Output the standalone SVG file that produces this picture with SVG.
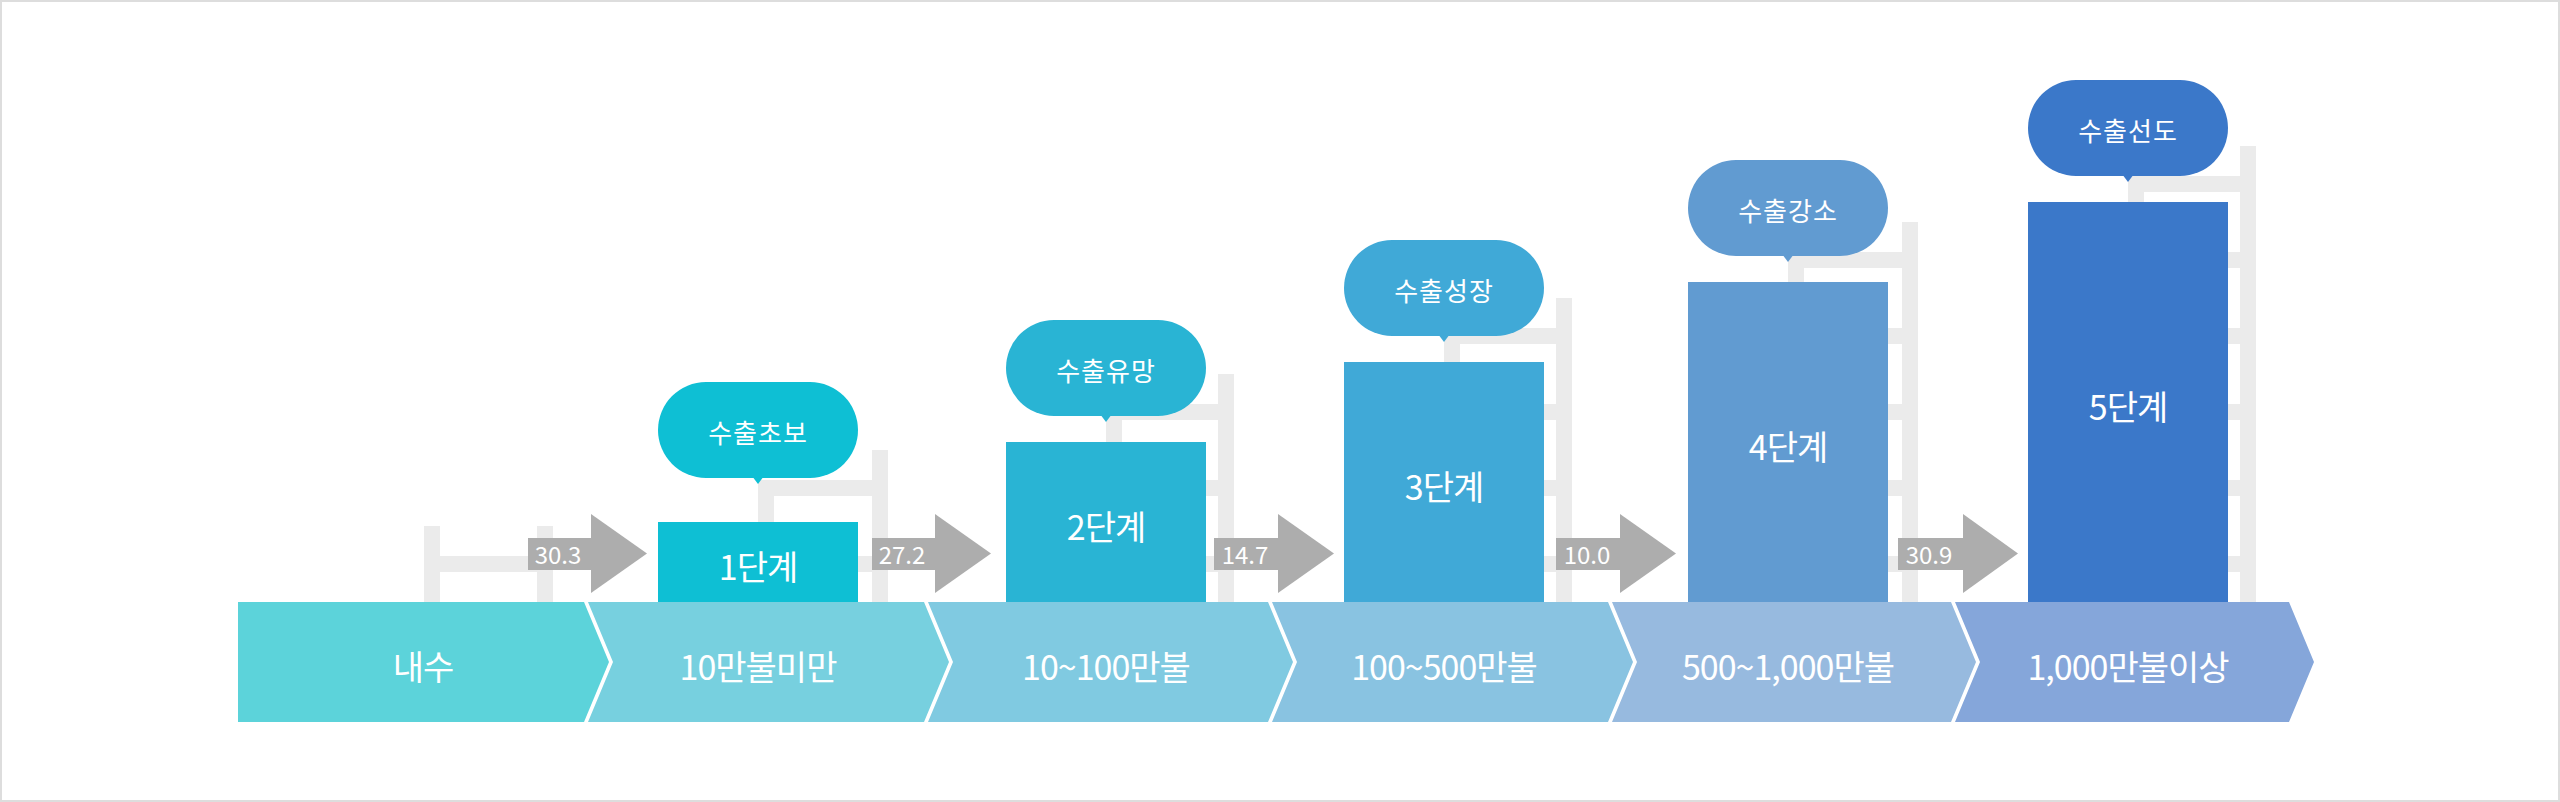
<svg xmlns="http://www.w3.org/2000/svg" width="2560" height="802" viewBox="0 0 2560 802">
<defs>
<style>
.lad{fill:#EBEBEB}
.arw{fill:#ADADAD}
.t{font-family:"Noto Sans CJK KR","Noto Sans",sans-serif;fill:#FFFFFF;text-anchor:middle;dominant-baseline:central}
.band{font-size:34px;letter-spacing:-1px}
.stage{font-size:34px;letter-spacing:-1px}
.bub{font-size:26px;letter-spacing:1px}
.num{font-size:24px;dominant-baseline:auto}
</style>
</defs>
<rect x="1" y="1" width="2558" height="800" fill="#FFFFFF" stroke="#DDDDDD" stroke-width="2"/>

<g id="ladders">
  <g id="ladder-0">
    <rect class="lad" x="424" y="526" width="16" height="76"/>
    <rect class="lad" x="537" y="526" width="16" height="76"/>
    <rect class="lad" x="424" y="556" width="129" height="16"/>
  </g>
  <g id="ladder-1">
    <rect class="lad" x="758" y="480" width="16" height="122"/>
    <rect class="lad" x="872" y="450" width="16" height="152"/>
    <rect class="lad" x="758" y="480" width="130" height="16"/>
    <rect class="lad" x="758" y="556" width="130" height="16"/>
  </g>
  <g id="ladder-2">
    <rect class="lad" x="1106" y="404" width="16" height="198"/>
    <rect class="lad" x="1218" y="374" width="16" height="228"/>
    <rect class="lad" x="1106" y="404" width="128" height="16"/>
    <rect class="lad" x="1106" y="480" width="128" height="16"/>
    <rect class="lad" x="1106" y="556" width="128" height="16"/>
  </g>
  <g id="ladder-3">
    <rect class="lad" x="1444" y="328" width="16" height="274"/>
    <rect class="lad" x="1556" y="298" width="16" height="304"/>
    <rect class="lad" x="1444" y="328" width="128" height="16"/>
    <rect class="lad" x="1444" y="404" width="128" height="16"/>
    <rect class="lad" x="1444" y="480" width="128" height="16"/>
    <rect class="lad" x="1444" y="556" width="128" height="16"/>
  </g>
  <g id="ladder-4">
    <rect class="lad" x="1788" y="252" width="16" height="350"/>
    <rect class="lad" x="1902" y="222" width="16" height="380"/>
    <rect class="lad" x="1788" y="252" width="130" height="16"/>
    <rect class="lad" x="1788" y="328" width="130" height="16"/>
    <rect class="lad" x="1788" y="404" width="130" height="16"/>
    <rect class="lad" x="1788" y="480" width="130" height="16"/>
    <rect class="lad" x="1788" y="556" width="130" height="16"/>
  </g>
  <g id="ladder-5">
    <rect class="lad" x="2128" y="176" width="16" height="426"/>
    <rect class="lad" x="2240" y="146" width="16" height="456"/>
    <rect class="lad" x="2128" y="176" width="128" height="16"/>
    <rect class="lad" x="2128" y="252" width="128" height="16"/>
    <rect class="lad" x="2128" y="328" width="128" height="16"/>
    <rect class="lad" x="2128" y="404" width="128" height="16"/>
    <rect class="lad" x="2128" y="480" width="128" height="16"/>
    <rect class="lad" x="2128" y="556" width="128" height="16"/>
  </g>
</g>

<g id="stage-1">
  <rect x="658" y="522" width="200" height="80" fill="#0EBFD4"/>
  <text class="t stage" x="758" y="565">1단계</text>
</g>
<g id="stage-2">
  <rect x="1006" y="442" width="200" height="160" fill="#29B4D4"/>
  <text class="t stage" x="1106" y="525">2단계</text>
</g>
<g id="stage-3">
  <rect x="1344" y="362" width="200" height="240" fill="#40A9D7"/>
  <text class="t stage" x="1444" y="485">3단계</text>
</g>
<g id="stage-4">
  <rect x="1688" y="282" width="200" height="320" fill="#619BD1"/>
  <text class="t stage" x="1788" y="445">4단계</text>
</g>
<g id="stage-5">
  <rect x="2028" y="202" width="200" height="400" fill="#3B78C9"/>
  <text class="t stage" x="2128" y="405">5단계</text>
</g>

<g id="bubble-1">
  <rect x="658" y="382" width="200" height="96" rx="48" ry="48" fill="#0EBFD4"/>
  <polygon points="752,476 764,476 758,484" fill="#0EBFD4"/>
  <text class="t bub" x="758" y="431">수출초보</text>
</g>
<g id="bubble-2">
  <rect x="1006" y="320" width="200" height="96" rx="48" ry="48" fill="#29B4D4"/>
  <polygon points="1100,414 1112,414 1106,422" fill="#29B4D4"/>
  <text class="t bub" x="1106" y="369">수출유망</text>
</g>
<g id="bubble-3">
  <rect x="1344" y="240" width="200" height="96" rx="48" ry="48" fill="#40A9D7"/>
  <polygon points="1438,334 1450,334 1444,342" fill="#40A9D7"/>
  <text class="t bub" x="1444" y="289">수출성장</text>
</g>
<g id="bubble-4">
  <rect x="1688" y="160" width="200" height="96" rx="48" ry="48" fill="#619BD1"/>
  <polygon points="1782,254 1794,254 1788,262" fill="#619BD1"/>
  <text class="t bub" x="1788" y="209">수출강소</text>
</g>
<g id="bubble-5">
  <rect x="2028" y="80" width="200" height="96" rx="48" ry="48" fill="#3B78C9"/>
  <polygon points="2122,174 2134,174 2128,182" fill="#3B78C9"/>
  <text class="t bub" x="2128" y="129">수출선도</text>
</g>

<g id="connectors">
  <g id="arrow-1">
    <rect class="arw" x="528" y="538" width="64" height="32"/>
    <polygon class="arw" points="591,514 647,553.5 591,593"/>
    <text class="t num" x="558" y="564">30.3</text>
  </g>
  <g id="arrow-2">
    <rect class="arw" x="872" y="538" width="64" height="32"/>
    <polygon class="arw" points="935,514 991,553.5 935,593"/>
    <text class="t num" x="902" y="564">27.2</text>
  </g>
  <g id="arrow-3">
    <rect class="arw" x="1214" y="538" width="65" height="32"/>
    <polygon class="arw" points="1278,514 1334,553.5 1278,593"/>
    <text class="t num" x="1245" y="564">14.7</text>
  </g>
  <g id="arrow-4">
    <rect class="arw" x="1556" y="538" width="65" height="32"/>
    <polygon class="arw" points="1620,514 1676,553.5 1620,593"/>
    <text class="t num" x="1587" y="564">10.0</text>
  </g>
  <g id="arrow-5">
    <rect class="arw" x="1898" y="538" width="66" height="32"/>
    <polygon class="arw" points="1963,514 2018,553.5 1963,593"/>
    <text class="t num" x="1929" y="564">30.9</text>
  </g>
</g>

<g id="band">
  <g id="band-0">
    <polygon points="238,602 584,602 609,662 584,722 238,722" fill="#5CD3DA"/>
    <text class="t band" x="423" y="665">내수</text>
  </g>
  <g id="band-1">
    <polygon points="588,602 924,602 949,662 924,722 588,722 613,662" fill="#77D0DF"/>
    <text class="t band" x="758" y="665">10만불미만</text>
  </g>
  <g id="band-2">
    <polygon points="928,602 1268,602 1293,662 1268,722 928,722 953,662" fill="#80CAE1"/>
    <text class="t band" x="1106" y="665">10~100만불</text>
  </g>
  <g id="band-3">
    <polygon points="1272,602 1608,602 1633,662 1608,722 1272,722 1297,662" fill="#89C3E1"/>
    <text class="t band" x="1444" y="665">100~500만불</text>
  </g>
  <g id="band-4">
    <polygon points="1612,602 1951,602 1976,662 1951,722 1612,722 1637,662" fill="#97BADF"/>
    <text class="t band" x="1788" y="665">500~1,000만불</text>
  </g>
  <g id="band-5">
    <polygon points="1955,602 2289,602 2314,662 2289,722 1955,722 1980,662" fill="#85A6DA"/>
    <text class="t band" x="2128" y="665">1,000만불이상</text>
  </g>
</g>
</svg>
